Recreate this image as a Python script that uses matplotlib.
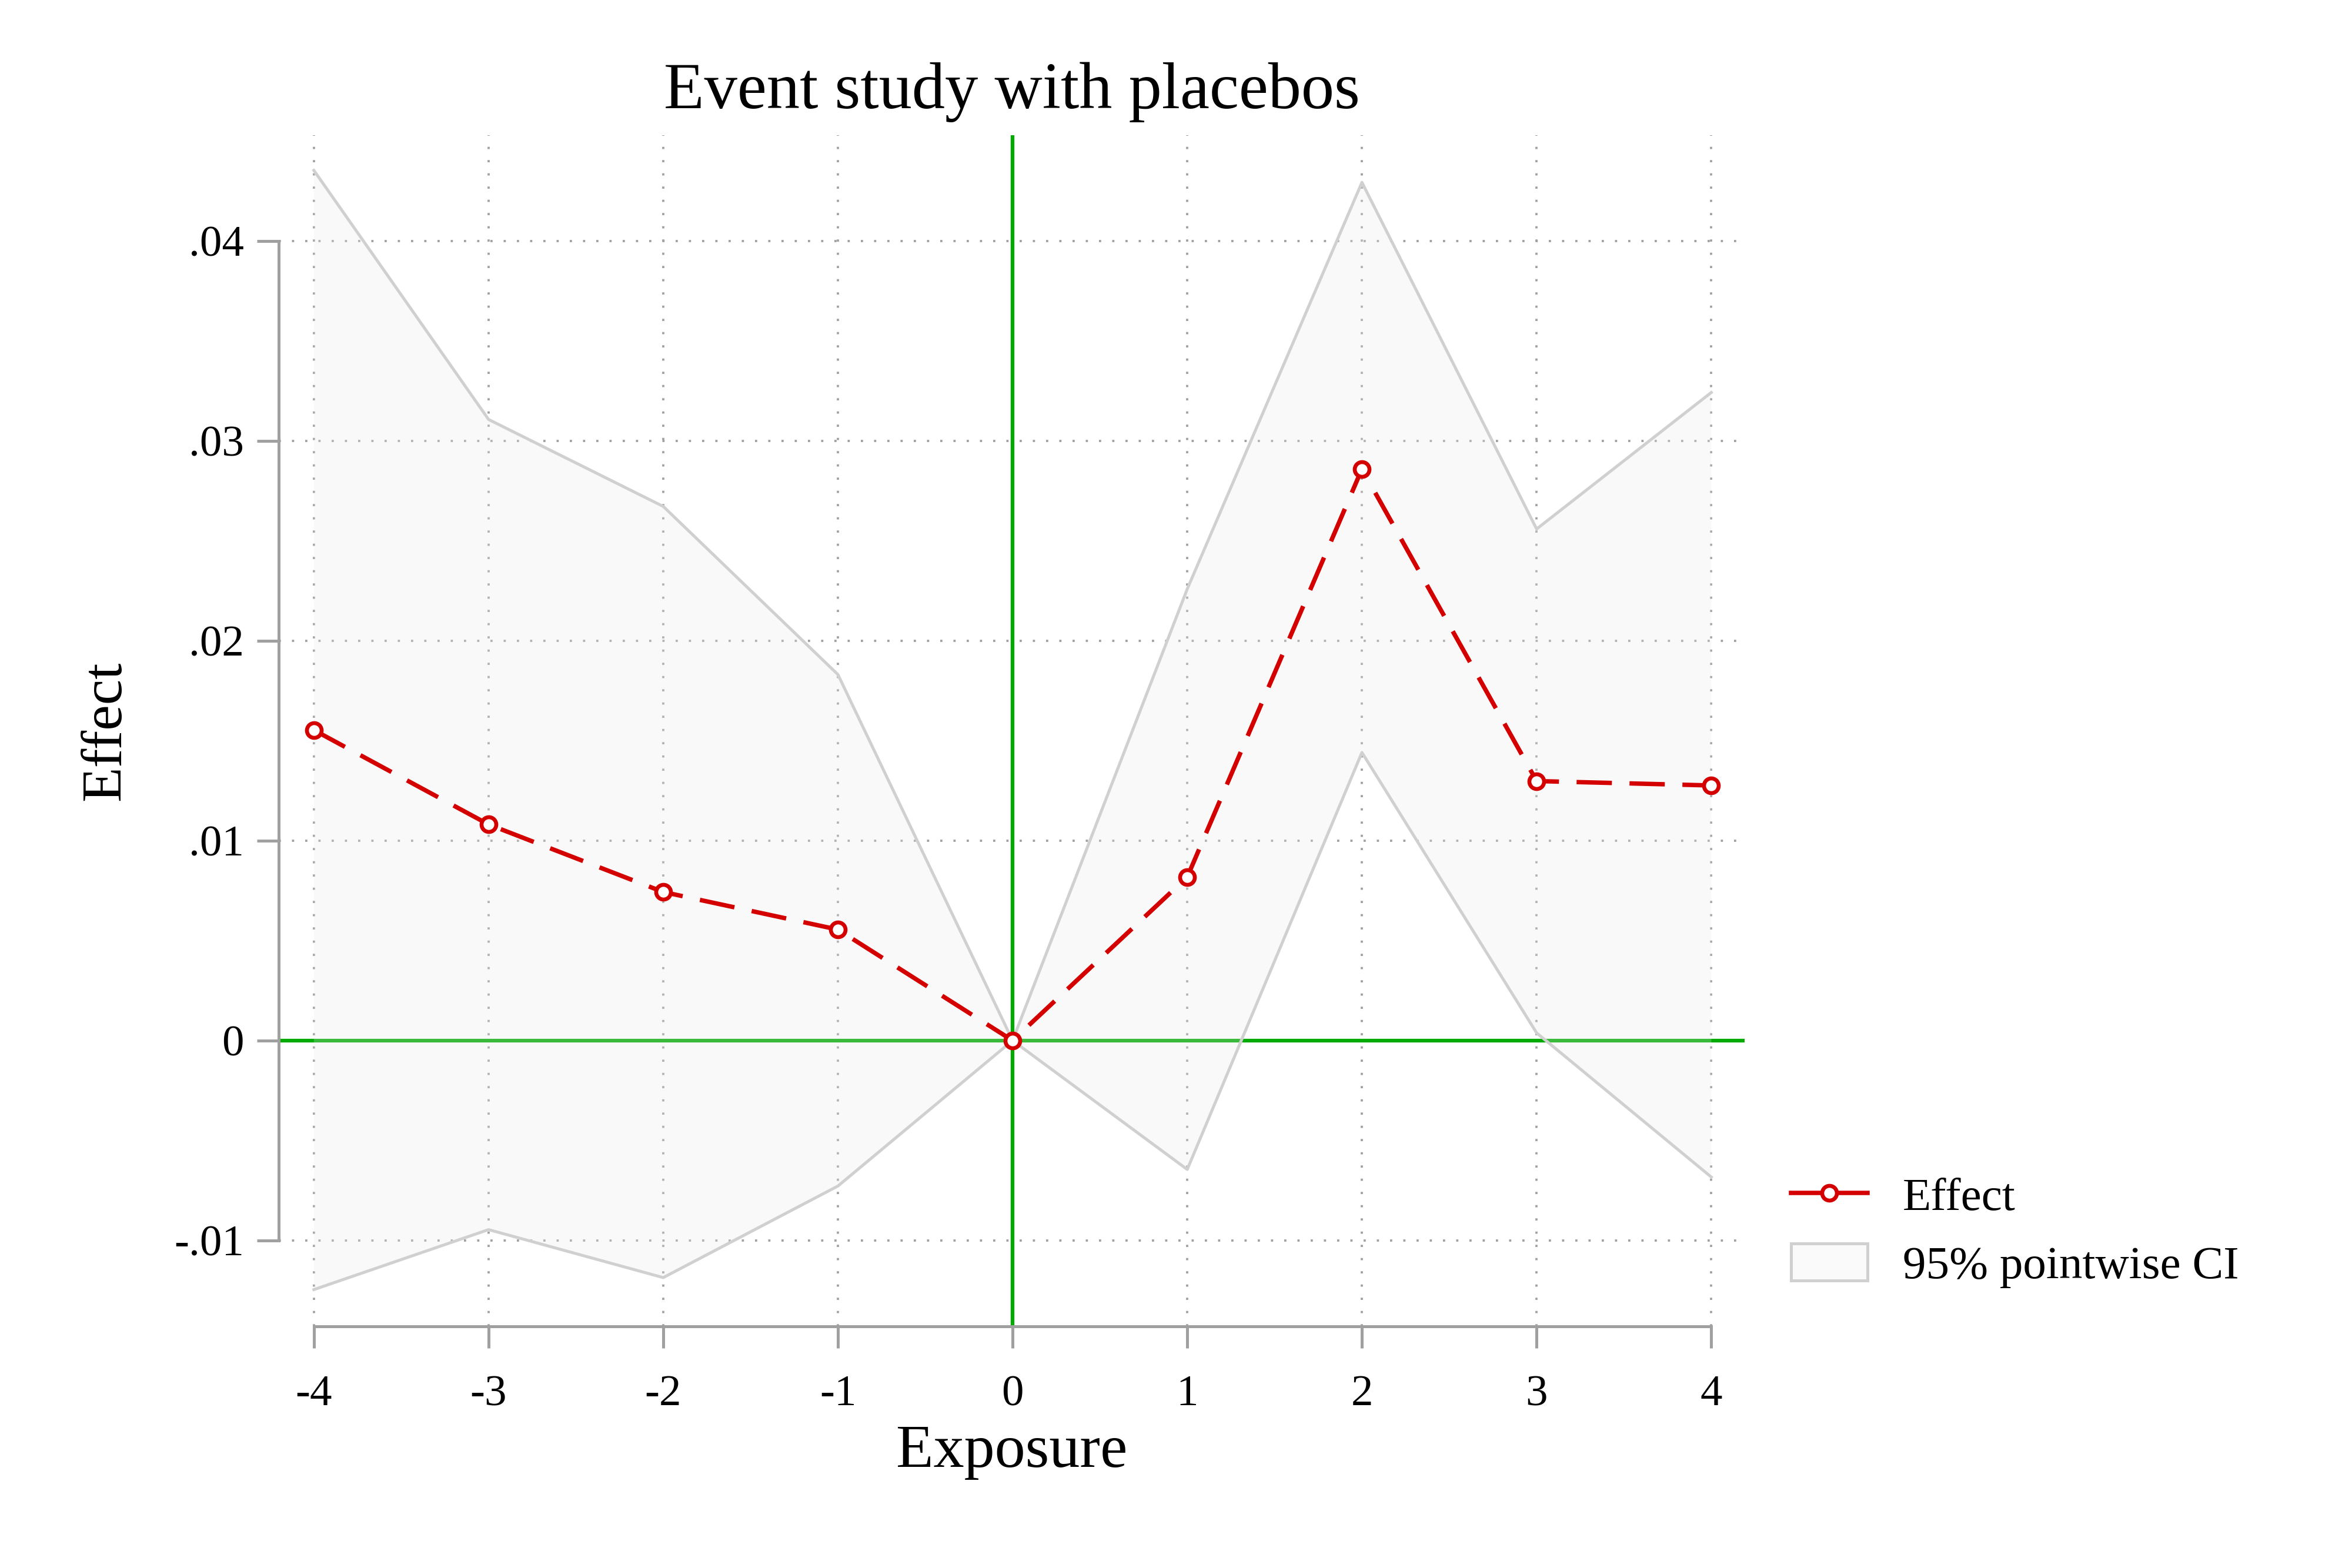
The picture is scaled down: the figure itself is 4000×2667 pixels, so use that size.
import numpy as np
import matplotlib.pyplot as plt
from matplotlib.lines import Line2D
from matplotlib.patches import Patch

# data
exposure = [-4, -3, -2, -1, 0, 1, 2, 3, 4]
effect = [0.01553, 0.01081, 0.00743, 0.00555, 0.0, 0.00818, 0.02859, 0.01298, 0.01276]
ci_upper = [0.04353, 0.03107, 0.02672, 0.01831, 0.0, 0.02259, 0.04293, 0.02559, 0.03242]
ci_lower = [-0.01246, -0.00946, -0.01186, -0.00728, 0.0, -0.00645, 0.01441, 0.00038, -0.00683]

y_ticks = [-0.01, 0.0, 0.01, 0.02, 0.03, 0.04]
y_tick_labels = ['-.01', '0', '.01', '.02', '.03', '.04']
x_tick_labels = ['-4', '-3', '-2', '-1', '0', '1', '2', '3', '4']

plt.rcParams['font.family'] = ['Liberation Serif', 'DejaVu Serif']

red = '#d40000'
green = '#00aa00'
axis_gray = '#a0a0a0'

fig = plt.figure(figsize=(4000 / 300, 2667 / 300), dpi=300)
ax = fig.add_axes([0.1186, 0.1541, 0.6231, 0.7598])

# grid (Stata style dotted)
for x in exposure:
    ax.axvline(x, color='#a0a0a0', lw=0.9, ls=(0, (1, 5)), zorder=0)
for y in y_ticks:
    ax.axhline(y, color='#a0a0a0', lw=0.9, ls=(0, (1, 5)), zorder=0)

# zero reference lines
ax.axhline(0, color=green, lw=1.5, zorder=1)
ax.axvline(0, color=green, lw=1.5, zorder=1)

# CI band
ax.fill_between(exposure, ci_lower, ci_upper, facecolor='#ebebeb', alpha=0.25,
                edgecolor='none', zorder=2)
ax.plot(exposure, ci_upper, color='#d0d0d0', lw=1.2, zorder=3)
ax.plot(exposure, ci_lower, color='#d0d0d0', lw=1.2, zorder=3)

# effect
ax.plot(exposure, effect, color=red, lw=1.8, ls=(0, (8, 4)), marker='o',
        markersize=6, markerfacecolor='white', markeredgecolor=red,
        markeredgewidth=1.6, zorder=4)

ax.set_xlim(-4.2, 4.19)
ax.set_ylim(-0.0143, 0.0453)

ax.set_xticks(exposure)
ax.set_xticklabels(x_tick_labels)
ax.set_yticks(y_ticks)
ax.set_yticklabels(y_tick_labels)

for side in ['top', 'right']:
    ax.spines[side].set_visible(False)
for side in ['left', 'bottom']:
    ax.spines[side].set_color(axis_gray)
    ax.spines[side].set_linewidth(1.2)
ax.spines['left'].set_bounds(-0.01, 0.04)
ax.spines['bottom'].set_bounds(-4, 4)

ax.tick_params(axis='both', colors=axis_gray, width=1.2, length=8.8,
               labelsize=18, labelcolor='black')
ax.tick_params(axis='x', pad=11)
ax.tick_params(axis='y', pad=5.5)

ax.set_title('Event study with placebos', fontsize=27, pad=11)
ax.set_xlabel('Exposure', fontsize=25, labelpad=4)
ax.set_ylabel('Effect', fontsize=23.5, labelpad=17)

handles = [
    Line2D([], [], color=red, lw=1.8, marker='o', markersize=6,
           markerfacecolor='white', markeredgecolor=red, markeredgewidth=1.6),
    Patch(facecolor='#fafafa', edgecolor='#d0d0d0', lw=1.2),
]
fig.legend(handles, ['Effect', '95% pointwise CI'], loc='center left',
           bbox_to_anchor=(0.7515, 0.2144), frameon=False, fontsize=19,
           borderpad=0, handlelength=1.65, handleheight=0.85,
           handletextpad=0.75, labelspacing=0.5)

fig.savefig('out.png', dpi=300)
plt.close(fig)
